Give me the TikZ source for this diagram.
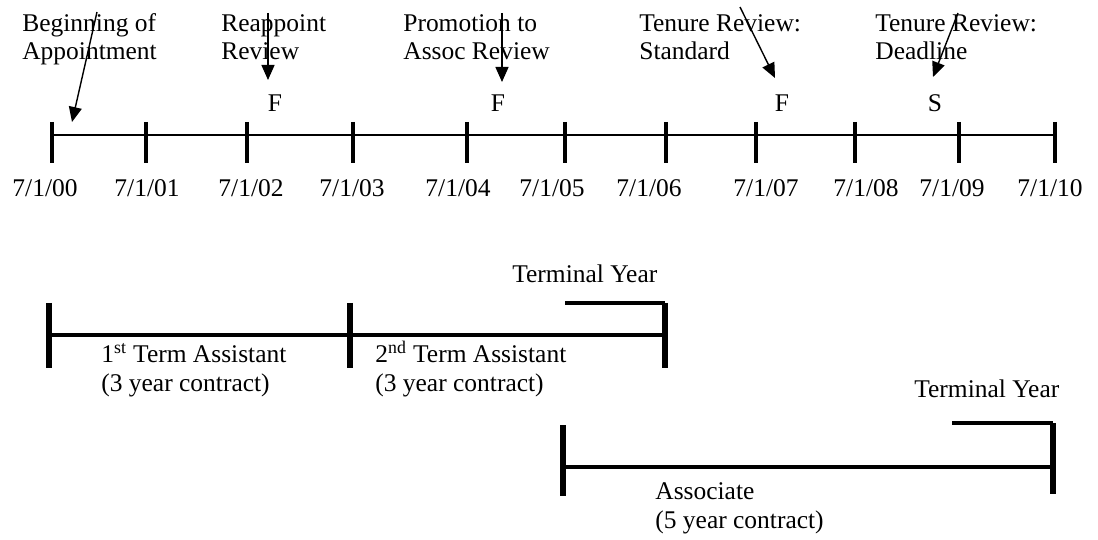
\documentclass[tikz,border=0pt]{standalone}
\usepackage{fontspec}
\setmainfont{Liberation Serif}
\usetikzlibrary{arrows.meta}

\begin{document}
\begin{tikzpicture}[x=0.02cm,y=-0.02cm,
            every node/.style={font=\fontsize{14.5}{16}\selectfont,inner sep=0pt},
            lbl/.style={anchor=base west,align=left},
            tick/.style={line width=2.8pt},
            bar/.style={line width=2.3pt},
            post/.style={line width=3.2pt},
            pointer/.style={-{Triangle[length=3mm,width=2.6mm]},line width=0.8pt}]

    \useasboundingbox (0,0) rectangle (1098,540);

    % timeline with dates
    \foreach \x/\lx/\d [count=\i from 0] in {52/45/00,146/147/01,247/251/02,353/352/03,467/458/04,
            565/552/05,666/649/06,756/766/07,855/866/08,959/952/09,1055/1050/10} {
        \coordinate (t\i) at (\x,135);
        \draw[tick] (\x,122) -- (\x,163);
        \node (d\i) at (\lx,197) [anchor=base] {7/1/\d};
    }
    \draw[line width=1.1pt] (t0) -- (t10);

    % events (base = last line)
    \node[lbl] (begin) at (22,60) {Beginning of\\Appointment};
    \node[lbl] (reapp) at (221,60) {Reappoint\\Review};
    \node[lbl] (promo) at (403,60) {Promotion to\\Assoc Review};
    \node[lbl] (tstd) at (639,60) {Tenure Review:\\Standard};
    \node[lbl] (tdead) at (875,60) {Tenure Review:\\Deadline};

    \node (f1) at (275,112) [anchor=base] {F};
    \node (f2) at (498,112) [anchor=base] {F};
    \node (f3) at (782,112) [anchor=base] {F};
    \node (s1) at (935,112) [anchor=base] {S};

    \coordinate (p1) at (97,12);  \coordinate (q1) at (72,122);
    \coordinate (p2) at (268,13); \coordinate (q2) at (268,80);
    \coordinate (p3) at (502,13); \coordinate (q3) at (502,82);
    \coordinate (p4) at (740,7);  \coordinate (q4) at (775,78);
    \coordinate (p5) at (958,13); \coordinate (q5) at (933,77);
    \foreach \i in {1,...,5}
        \draw[pointer] (p\i) -- (q\i);

    % assistant terms
    \coordinate (a0) at (49,335);
    \coordinate (a1) at (665,335);
    \draw[bar] (a0) -- (a1);
    \foreach \x in {49,350,665}
        \draw[post] (\x,303) -- (\x,368);
    \draw[bar] (565,303) -- (665,303);
    \node[lbl] (term1) at (101,391) {1\textsuperscript{st} Term Assistant\\(3 year contract)};
    \node[lbl] (term2) at (375,391) {2\textsuperscript{nd} Term Assistant\\(3 year contract)};
    \node[lbl] (last1) at (512,283) {Terminal Year};

    % associate term
    \coordinate (b0) at (563,467);
    \coordinate (b1) at (1053,467);
    \draw[bar] (b0) -- (b1);
    \draw[post] (563,425) -- (563,496);
    \draw[post] (1053,423) -- (1053,494);
    \draw[bar] (952,423) -- (1053,423);
    \node[lbl] (assoc) at (655,528) {Associate\\(5 year contract)};
    \node[lbl] (last2) at (914,397) {Terminal Year};
\end{tikzpicture}
\end{document}
